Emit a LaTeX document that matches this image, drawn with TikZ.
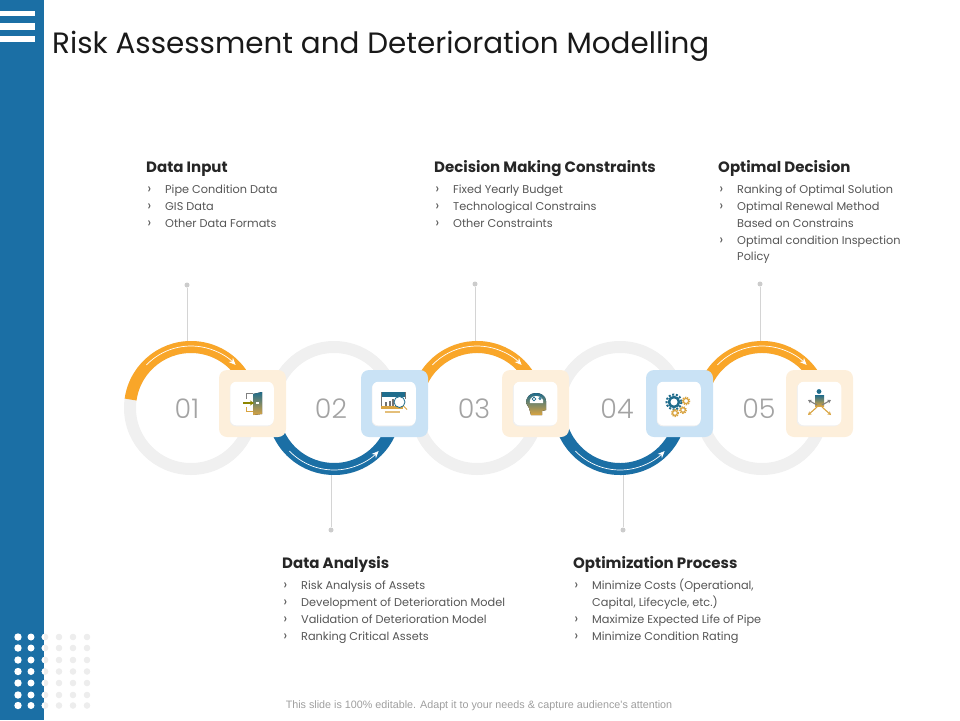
\documentclass[tikz,border=0pt]{standalone}
\usepackage{fontspec}
\setmainfont{Poppins}
\newfontfamily\footfont{Liberation Sans}
\newfontfamily\numfont{Poppins Light}
\usetikzlibrary{arrows.meta}
\definecolor{sideblue}{HTML}{1B6FA5}
\definecolor{arcorange}{HTML}{F9A629}
\definecolor{ringgrey}{HTML}{F0F0F0}
\definecolor{tintorange}{HTML}{FDEFDB}
\definecolor{tintblue}{HTML}{C9E2F5}
\definecolor{bodygrey}{HTML}{555555}
\definecolor{numgrey}{HTML}{A3A3A3}
\definecolor{icongold}{HTML}{D9A441}
\definecolor{iconteal}{HTML}{1F6C8C}
\newcommand\bul{\llap{{\fontsize{14}{14}\selectfont ›}\hspace{14pt}}}
\tikzset{
  ring/.style={circle,draw=ringgrey,line width=12pt,minimum size=122pt,inner sep=0pt},
  arcband/.style={line width=12pt},
  flow/.style={draw=white,line width=0.7pt,-{Stealth[length=7pt,width=6pt]}},
  plate/.style={rectangle,rounded corners=8pt,minimum size=67pt,inner sep=0pt},
  tile/.style={rectangle,rounded corners=6pt,fill=white,minimum size=43.5pt,inner sep=0pt},
  num/.style={text=numgrey,font=\numfont\fontsize{27}{27}\selectfont},
  head/.style={anchor=west,inner sep=0pt,text height=11pt,text depth=3pt,text=black!85,font=\fontsize{15}{15}\selectfont\bfseries},
  item/.style={anchor=west,inner sep=0pt,text height=8pt,text depth=2.5pt,text=bodygrey,font=\fontsize{11.3}{11.3}\selectfont},
  knob/.style={circle,fill=black!20,minimum size=5pt,inner sep=0pt},
  stem/.style={draw=black!17,line width=0.7pt},
  icon/.style={top color=iconteal,bottom color=icongold,draw=none},
  spoke/.style={line width=1.1pt,-{Stealth[length=3.5pt,width=4pt]}}
}
\begin{document}
\begin{tikzpicture}[x=1pt,y=-1pt]
  \useasboundingbox (0,0) rectangle (960,720);
  % side bar
  \fill[sideblue] (0,0) rectangle (44,720);
  \fill[white] (0,11) rectangle (35,16);
  \fill[white] (0,23) rectangle (35,30);
  \fill[white] (0,36) rectangle (35,42);
  \foreach \y in {637,648,660,671.5,683,695,705.5} {
    \fill[white] (18,\y) circle (3.7);
    \fill[white] (31,\y) circle (3.5);
    \fill[black!7] (59,\y) circle (3.3);
    \fill[black!7] (73,\y) circle (3.3);
    \fill[black!7] (87,\y) circle (3.3);
    \fill[black!7] (45,\y) circle (3.4);
    \begin{scope}
      \clip (0,600) rectangle (44,720);
      \fill[white] (45,\y) circle (3.4);
    \end{scope}
  }
  \node[anchor=west,inner sep=0pt,text=black!90,font=\fontsize{29.4}{29.4}\selectfont] (title) at (52,46) {Risk Assessment and Deterioration Modelling};
  % stems
  \node[knob] (dot1) at (187,285) {};
  \node[knob] (dot2) at (331,530) {};
  \node[knob] (dot3) at (475,284) {};
  \node[knob] (dot4) at (623,530) {};
  \node[knob] (dot5) at (760,284) {};
  \coordinate (end1) at (187,342);
  \coordinate (end2) at (331,474);
  \coordinate (end3) at (475,342);
  \coordinate (end4) at (623,474);
  \coordinate (end5) at (760,342);
  \draw[stem] (dot1) -- (end1);
  \draw[stem] (dot2) -- (end2);
  \draw[stem] (dot3) -- (end3);
  \draw[stem] (dot4) -- (end4);
  \draw[stem] (dot5) -- (end5);
  % rings
  \node[ring] (ring1) at (191,408) {};
  \node[ring] (ring2) at (334,408) {};
  \node[ring] (ring3) at (477,408) {};
  \node[ring] (ring4) at (620,408) {};
  \node[ring] (ring5) at (762,408) {};
  % arcs
  \draw[arcband,arcorange] (ring1.center) ++(188:61) arc (188:330:61);
  \draw[arcband,sideblue] (ring2.center) ++(155:61) arc (155:25:61);
  \draw[arcband,arcorange] (ring3.center) ++(200:61) arc (200:330:61);
  \draw[arcband,sideblue] (ring4.center) ++(170:61) arc (170:25:61);
  \draw[arcband,arcorange] (ring5.center) ++(200:61) arc (200:330:61);
  \draw[flow] (ring1.center) ++(224:62) arc (224:316:62);
  \draw[flow] (ring2.center) ++(136:62) arc (136:44:62);
  \draw[flow] (ring3.center) ++(224:62) arc (224:316:62);
  \draw[flow] (ring4.center) ++(136:62) arc (136:44:62);
  \draw[flow] (ring5.center) ++(224:62) arc (224:316:62);
  % plates
  \node[plate,fill=tintorange] (plate1) at (252.5,403.5) {};
  \node[plate,fill=tintblue] (plate2) at (394.5,403.5) {};
  \node[plate,fill=tintorange] (plate3) at (535.5,403.5) {};
  \node[plate,fill=tintblue] (plate4) at (679.5,403.5) {};
  \node[plate,fill=tintorange] (plate5) at (819.5,403.5) {};
  \node[tile,fill=black!6] at (251.5,404.5) {};
  \node[tile,fill=black!6] at (393.5,404.5) {};
  \node[tile,fill=black!6] at (534.5,404.5) {};
  \node[tile,fill=black!6] at (678.5,404.5) {};
  \node[tile,fill=black!6] at (818.5,404.5) {};
  \node[tile] (tile1) at (252,403.5) {};
  \node[tile] (tile2) at (394,403.5) {};
  \node[tile] (tile3) at (535.5,403.5) {};
  \node[tile] (tile4) at (679,403.5) {};
  \node[tile] (tile5) at (819.5,403.5) {};
  % numbers
  \node[num] (num1) at (187,408.5) {01};
  \node[num] (num2) at (331,408.5) {02};
  \node[num] (num3) at (474,408.5) {03};
  \node[num] (num4) at (617,408.5) {04};
  \node[num] (num5) at (759,408.5) {05};
  % icon 1, door
  \fill[icon] (253,394) -- (262,392) -- (262,414) -- (253,415) -- cycle;
  \draw[black!50,line width=1pt] (246,399) -- (246,393.5) -- (253,393.5);
  \draw[icongold,line width=1pt] (246,407) -- (246,411.5) -- (253,411.5);
  \draw[olive,line width=1.5pt,-{Stealth[length=4pt,width=5pt]}] (243,403) -- (254,403);
  \fill[white] (256,402.3) rectangle (259,403.7);
  % icon 2, screen
  \fill[iconteal] (381,392) rectangle (406,397);
  \draw[black!55,line width=0.7pt] (381.5,392) -- (381.5,406);
  \draw[black!55,line width=0.7pt] (405.5,392) -- (405.5,399);
  \fill[icongold] (381,406) rectangle (403,408.5);
  \fill[icongold!70] (385,411) rectangle (400,413);
  \fill[black!55] (385,402) rectangle (387,406);
  \fill[black!55] (388.5,400.5) rectangle (390.5,406);
  \fill[black!55] (392,399) rectangle (394,406);
  \draw[iconteal,fill=white,line width=0.8pt] (399.5,402) circle (5.5);
  \draw[icongold,line width=1pt] (403.5,406) -- (407,409.5);
  % icon 3, head
  \fill[icon] (536,393) .. controls (529,393) and (526,398) .. (526,403) -- (529,408) -- (531,415) -- (542,415) -- (542,411) -- (546,410) -- (546,401) .. controls (546,396) and (541,393) .. (536,393) -- cycle;
  \fill[white] (536,396) .. controls (531,396) and (529,400) .. (530,403) -- (543,403) .. controls (544,399) and (541,396) .. (536,396) -- cycle;
  \draw[iconteal,line width=0.7pt] (534,399) circle (1.8);
  \draw[iconteal,line width=0.7pt] (540,398.5) circle (1.2);
  % icon 4, gears
  \draw[iconteal,line width=2pt,dash pattern=on 2pt off 1.7pt] (674,402) circle (7.5);
  \draw[iconteal,line width=2.5pt] (674,402) circle (5);
  \draw[icongold,line width=1.5pt,dash pattern=on 1.2pt off 1pt] (686,401) circle (3.6);
  \draw[icongold,line width=1.2pt] (686,401) circle (2.6);
  \draw[icongold,line width=1.5pt,dash pattern=on 1.2pt off 1pt] (683,410) circle (3.2);
  \draw[icongold,line width=1.2pt] (683,410) circle (2.3);
  \draw[icongold,line width=1.5pt,dash pattern=on 1.2pt off 1pt] (675,413) circle (3.4);
  \draw[icongold,line width=1.2pt] (675,413) circle (2.4);
  % icon 5, person and arrows
  \fill[iconteal] (819,391.5) circle (2.4);
  \fill[icon] (815,395) rectangle (824,406);
  \draw[spoke,black!50] (817,405) -- (808,400);
  \draw[spoke,black!50] (822,405) -- (831,400);
  \draw[spoke,icongold] (817,407) -- (808,415);
  \draw[spoke,icongold] (822,407) -- (831,415);
  % data input
  \node[head] (inhead) at (146,168.5) {Data Input};
  \node[item] (in1) at (165,190.5) {\bul Pipe Condition Data};
  \node[item] (in2) at (165,207.5) {\bul GIS Data};
  \node[item] (in3) at (165,224.5) {\bul Other Data Formats};
  % data analysis
  \node[head] (anhead) at (282,564.5) {Data Analysis};
  \node[item] (an1) at (301,586.5) {\bul Risk Analysis of Assets};
  \node[item] (an2) at (301,603.5) {\bul Development of Deterioration Model};
  \node[item] (an3) at (301,620.5) {\bul Validation of Deterioration Model};
  \node[item] (an4) at (301,637.5) {\bul Ranking Critical Assets};
  % constraints
  \node[head] (cohead) at (434,168.5) {Decision Making Constraints};
  \node[item] (co1) at (453,190.5) {\bul Fixed Yearly Budget};
  \node[item] (co2) at (453,207.5) {\bul Technological Constrains};
  \node[item] (co3) at (453,224.5) {\bul Other Constraints};
  % optimization
  \node[head] (ophead) at (573,564.5) {Optimization Process};
  \node[item] (op1) at (592,586.5) {\bul Minimize Costs (Operational,};
  \node[item] (op2) at (592,603.5) {Capital, Lifecycle, etc.)};
  \node[item] (op3) at (592,620.5) {\bul Maximize Expected Life of Pipe};
  \node[item] (op4) at (592,637.5) {\bul Minimize Condition Rating};
  % decision
  \node[head] (dehead) at (718,168.5) {Optimal Decision};
  \node[item] (de1) at (737,190.5) {\bul Ranking of Optimal Solution};
  \node[item] (de2) at (737,207.5) {\bul Optimal Renewal Method};
  \node[item] (de3) at (737,224.5) {Based on Constrains};
  \node[item] (de4) at (737,241.5) {\bul Optimal condition Inspection};
  \node[item] (de5) at (737,257.5) {Policy};
  % footer
  \node[inner sep=0pt,text=black!38,font=\footfont\fontsize{10.76}{11}\selectfont] (foot) at (479,706) {This slide is 100\% editable. Adapt it to your needs \& capture audience's attention};
\end{tikzpicture}
\end{document}
